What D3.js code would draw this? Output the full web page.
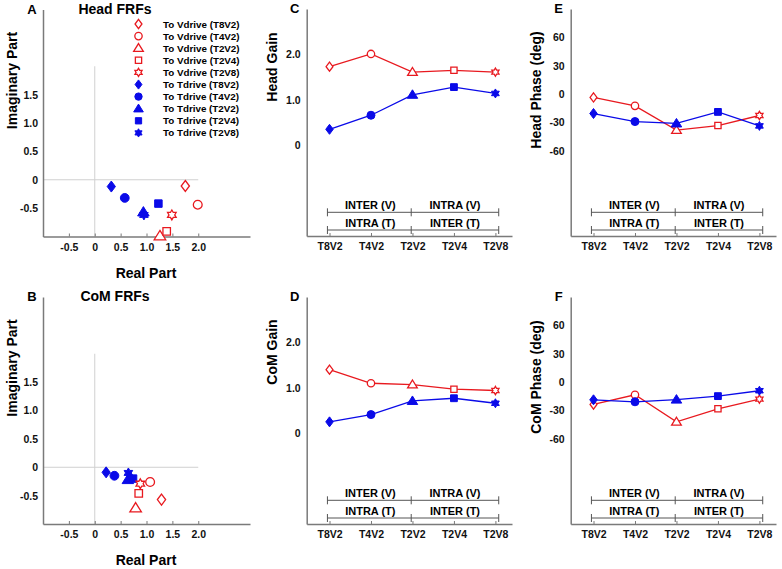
<!DOCTYPE html>
<html><head><meta charset="utf-8">
<script src="https://cdn.jsdelivr.net/npm/d3@7"></script>
<style>
body{margin:0;background:#fff;}
svg{display:block;font-family:"Liberation Sans",Arial,sans-serif;font-weight:bold;}
</style></head>
<body><svg id="chart" width="782" height="569"></svg>
<script>
// ---------- DATA ----------
const categories = ["T8V2","T4V2","T2V2","T2V4","T2V8"];
const shapes = ["diamond","circle","triangle","square","star"];
const legendLabelsV = ["To Vdrive (T8V2)","To Vdrive (T4V2)","To Vdrive (T2V2)","To Vdrive (T2V4)","To Vdrive (T2V8)"];
const legendLabelsT = ["To Tdrive (T8V2)","To Tdrive (T4V2)","To Tdrive (T2V2)","To Tdrive (T2V4)","To Tdrive (T2V8)"];

// Head FRFs (complex plane)
const headReV = [1.75, 1.99, 1.26, 1.39, 1.49];
const headImV = [-0.11, -0.44, -0.99, -0.91, -0.62];
const headReT = [0.32, 0.58, 0.94, 1.23, 0.95];
const headImT = [-0.12, -0.32, -0.57, -0.42, -0.62];
// CoM FRFs
const comReV = [1.29, 1.07, 0.79, 0.85, 0.88];
const comImV = [-0.57, -0.26, -0.72, -0.46, -0.29];
const comReT = [0.22, 0.38, 0.64, 0.74, 0.65];
const comImT = [-0.09, -0.15, -0.22, -0.20, -0.10];

// Gains and phases
const headGainV = [1.73, 2.01, 1.61, 1.65, 1.61];
const headGainT = [0.35, 0.66, 1.11, 1.28, 1.14];
const headPhaseV = [-3.5, -12.4, -38, -33.2, -22.6];
const headPhaseT = [-20.5, -29, -31, -18.8, -33.6];
const comGainV = [1.40, 1.10, 1.07, 0.97, 0.94];
const comGainT = [0.25, 0.41, 0.71, 0.77, 0.66];
const comPhaseV = [-23.6, -13.4, -42, -28.2, -18];
const comPhaseT = [-18.7, -20.8, -18.5, -14.8, -9.1];

// Ticks
const riXTicks = [-0.5, 0, 0.5, 1.0, 1.5, 2.0];
const riYTicks = [-0.5, 0, 0.5, 1.0, 1.5];
const gainTicks = [0, 1.0, 2.0];
const phaseTicks = [-60, -30, 0, 30, 60];
const bracketRow1 = ["INTER (V)", "INTRA (V)"];
const bracketRow2 = ["INTRA (T)", "INTER (T)"];

// ---------- STYLE ----------
const RED = "#e8191f", BLUE = "#0a0ae8", AXIS = "#7a7a7a", REF = "#d0d0d0";
const svg = d3.select("#chart");

function fmt(v){ return v === 0 ? "0" : v.toFixed(1); }
function fmtRI(v){ return v === 0 ? "0" : v.toFixed(1); }

function starPath(r){
  const pts = [];
  for (let k = 0; k < 12; k++){
    const a = -Math.PI/2 + k*Math.PI/6;
    const rr = (k % 2 === 0) ? r : r/Math.sqrt(3);
    pts.push([rr*Math.cos(a), rr*Math.sin(a)]);
  }
  return "M" + pts.map(p => p[0].toFixed(2)+","+p[1].toFixed(2)).join("L") + "Z";
}
function shapePath(shape, s){
  switch(shape){
    case "diamond": return `M0,${-s}L${s*0.75},0L0,${s}L${-s*0.75},0Z`;
    case "circle": { const r = s*0.8; return `M${r},0A${r},${r} 0 1,1 ${-r},0A${r},${r} 0 1,1 ${r},0Z`; }
    case "triangle": return `M0,${-s}L${s*1.05},${s*0.7}L${-s*1.05},${s*0.7}Z`;
    case "square": { const h = s*0.68; return `M${-h},${-h}H${h}V${h}H${-h}Z`; }
    case "star": return starPath(s*0.9);
  }
}
function marker(g, shape, x, y, s, filled, color){
  g.append("path").attr("d", shapePath(shape, s))
    .attr("transform", `translate(${x},${y})`)
    .attr("fill", filled ? color : "#fff")
    .attr("stroke", color).attr("stroke-width", filled ? 1 : 1.3);
}

// ---------- COMPLEX-PLANE PANELS ----------
function complexPanel(top, letter, title, reV, imV, reT, imT, withLegend){
  const x = d3.scaleLinear().domain([-1, 3]).range([43, 250]);
  const y = d3.scaleLinear().domain([-1, 3]).range([top + 227, top]);
  const g = svg.append("g");
  g.append("line").attr("x1", x(-1)).attr("x2", x(2)).attr("y1", y(0)).attr("y2", y(0)).attr("stroke", REF).attr("stroke-width", 1);
  g.append("line").attr("x1", x(0)).attr("x2", x(0)).attr("y1", y(-1)).attr("y2", y(2)).attr("stroke", REF).attr("stroke-width", 1);
  const xa = g.append("g").attr("transform", `translate(0,${y(-1)})`)
    .call(d3.axisBottom(x).tickValues(riXTicks).tickFormat(fmtRI).tickSizeInner(-3).tickSizeOuter(0).tickPadding(7));
  const ya = g.append("g").attr("transform", `translate(${x(-1)},0)`)
    .call(d3.axisLeft(y).tickValues(riYTicks).tickFormat(fmtRI).tickSize(0).tickPadding(5));
  [xa, ya].forEach(a => {
    a.select(".domain").attr("stroke", AXIS).attr("stroke-width", 1.5);
    a.selectAll(".tick line").attr("stroke", AXIS);
    a.selectAll("text").attr("font-size", 10.5).attr("font-weight", "bold").attr("fill", "#111").attr("font-family", "Liberation Sans, Arial, sans-serif");
  });
  shapes.forEach((sh, i) => marker(g, sh, x(reT[i]), y(imT[i]), 5.5, true, BLUE));
  shapes.forEach((sh, i) => marker(g, sh, x(reV[i]), y(imV[i]), 5.5, false, RED));
  g.append("text").attr("x", 32).attr("y", top + 4).attr("text-anchor", "middle").attr("font-size", 13).text(letter);
  g.append("text").attr("x", 115).attr("y", top + 4).attr("text-anchor", "middle").attr("font-size", 14).text(title);
  g.append("text").attr("transform", `translate(17,${top + 71}) rotate(-90)`).attr("text-anchor", "middle").attr("font-size", 14).text("Imaginary Part");
  g.append("text").attr("x", 146).attr("y", top + 268).attr("text-anchor", "middle").attr("font-size", 14).text("Real Part");
  if (withLegend){
    const items = shapes.map((s, i) => ({shape: s, filled: false, color: RED, label: legendLabelsV[i]}))
      .concat(shapes.map((s, i) => ({shape: s, filled: true, color: BLUE, label: legendLabelsT[i]})));
    items.forEach((it, i) => {
      const yy = 24 + i * 12.1;
      marker(g, it.shape, 138.5, yy, 4.6, it.filled, it.color);
      g.append("text").attr("x", 163).attr("y", yy).attr("dominant-baseline", "central").attr("font-size", 9.8).text(it.label);
    });
  }
}
complexPanel(9.5, "A", "Head FRFs", headReV, headImV, headReT, headImT, true);
complexPanel(297, "B", "CoM FRFs", comReV, comImV, comReT, comImT, false);

// ---------- CATEGORY PANELS ----------
function linePanel(left, top, letter, ylabel, yDomain, ticks, tickFmt, vVals, tVals, labelY){
  const x = d3.scaleLinear().domain([0.45, 5.4]).range([left, left + 205.3]);
  const y = d3.scaleLinear().domain(yDomain).range([top + 227, top]);
  const g = svg.append("g");
  const xa = g.append("g").attr("transform", `translate(0,${top + 227})`)
    .call(d3.axisBottom(x).tickValues([1,2,3,4,5]).tickFormat(d => categories[d-1]).tickSizeInner(-3).tickSizeOuter(0).tickPadding(7));
  const ya = g.append("g").attr("transform", `translate(${left},0)`)
    .call(d3.axisLeft(y).tickValues(ticks).tickFormat(tickFmt).tickSize(0).tickPadding(6));
  [xa, ya].forEach(a => {
    a.select(".domain").attr("stroke", AXIS).attr("stroke-width", 1.5);
    a.selectAll(".tick line").attr("stroke", AXIS);
    a.selectAll("text").attr("font-size", 10.5).attr("font-weight", "bold").attr("fill", "#111").attr("font-family", "Liberation Sans, Arial, sans-serif");
  });
  const rows = [[bracketRow1, top + 203.3], [bracketRow2, top + 221]];
  rows.forEach(([labels, yy]) => {
    const xl = x(0.95), xm = x(2.97), xr = x(5.08);
    g.append("line").attr("x1", xl).attr("x2", xr).attr("y1", yy).attr("y2", yy).attr("stroke", "#555").attr("stroke-width", 1);
    [xl, xm, xr].forEach(xx => g.append("line").attr("x1", xx).attr("x2", xx).attr("y1", yy - 4).attr("y2", yy + 4).attr("stroke", "#555").attr("stroke-width", 1));
    g.append("text").attr("x", (xl + xm) / 2 + 1).attr("y", yy - 3).attr("text-anchor", "middle").attr("font-size", 11).text(labels[0]);
    g.append("text").attr("x", (xm + xr) / 2).attr("y", yy - 3).attr("text-anchor", "middle").attr("font-size", 11).text(labels[1]);
  });
  const line = d3.line().x((d, i) => x(i + 1)).y(d => y(d));
  g.append("path").attr("d", line(vVals)).attr("fill", "none").attr("stroke", RED).attr("stroke-width", 1.3);
  g.append("path").attr("d", line(tVals)).attr("fill", "none").attr("stroke", BLUE).attr("stroke-width", 1.3);
  shapes.forEach((sh, i) => marker(g, sh, x(i + 1), y(vVals[i]), 4.6, false, RED));
  shapes.forEach((sh, i) => marker(g, sh, x(i + 1), y(tVals[i]), 5, true, BLUE));
  g.append("text").attr("x", left - 12).attr("y", top + 4).attr("text-anchor", "middle").attr("font-size", 13).text(letter);
  g.append("text").attr("transform", `translate(${left - 30},${labelY}) rotate(-90)`).attr("text-anchor", "middle").attr("font-size", 14).text(ylabel);
}
linePanel(306.7, 9, "C", "Head Gain", [-2, 3], gainTicks, fmt, headGainV, headGainT, 67);
linePanel(306.7, 297, "D", "CoM Gain", [-2, 3], gainTicks, fmt, comGainV, comGainT, 352);
linePanel(570.7, 9, "E", "Head Phase (deg)", [-150, 90], phaseTicks, d => String(d), headPhaseV, headPhaseT, 90);
linePanel(570.7, 297, "F", "CoM Phase (deg)", [-150, 90], phaseTicks, d => String(d), comPhaseV, comPhaseT, 377);
</script></body></html>
